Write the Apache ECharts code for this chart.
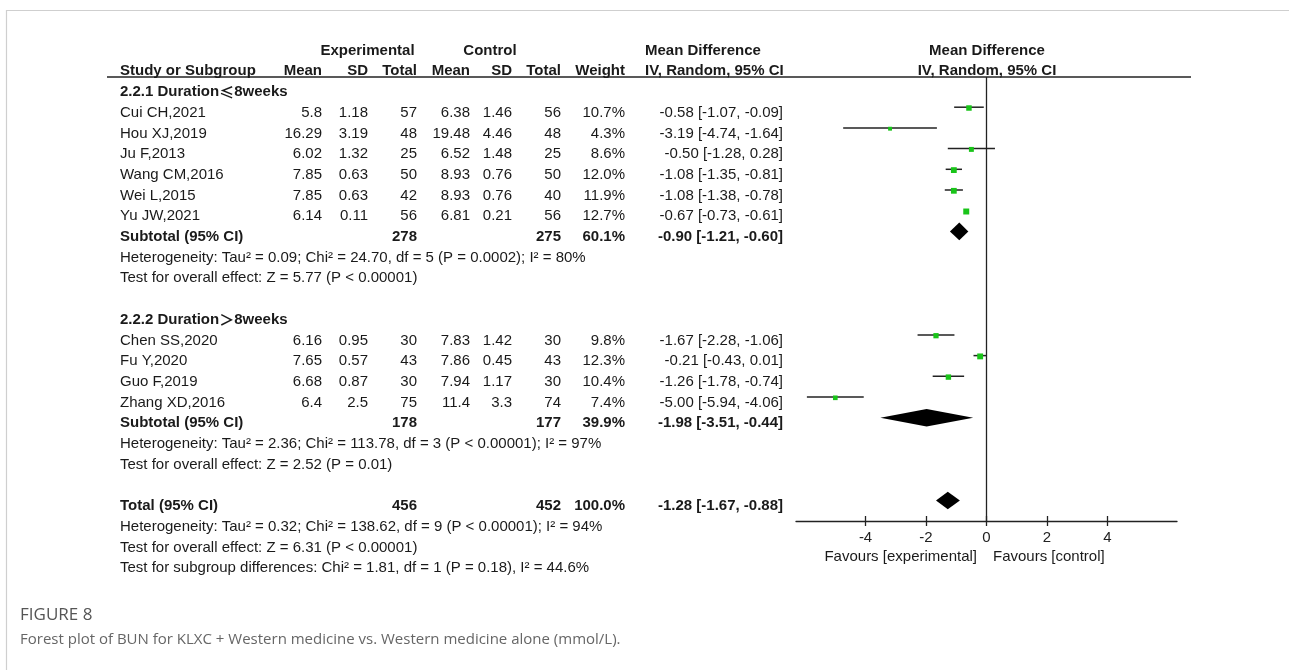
<!DOCTYPE html>
<html><head><meta charset="utf-8">
<script src="https://cdn.jsdelivr.net/npm/echarts@6/dist/echarts.min.js"></script>
<style>html,body{margin:0;padding:0;background:#fff}#c{width:1289px;height:670px}</style>
</head><body><div id="c"></div>
<script>
// ---------------- data ----------------
const studies  = ['Cui CH,2021','Hou XJ,2019','Ju F,2013','Wang CM,2016','Wei L,2015','Yu JW,2021','Chen SS,2020','Fu Y,2020','Guo F,2019','Zhang XD,2016'];
const studyRows = [1,2,3,4,5,6,12,13,14,15];
const expMean = ['5.8','16.29','6.02','7.85','7.85','6.14','6.16','7.65','6.68','6.4'];
const expSD   = ['1.18','3.19','1.32','0.63','0.63','0.11','0.95','0.57','0.87','2.5'];
const expN    = [57,48,25,50,42,56,30,43,30,75];
const ctlMean = ['6.38','19.48','6.52','8.93','8.93','6.81','7.83','7.86','7.94','11.4'];
const ctlSD   = ['1.46','4.46','1.48','0.76','0.76','0.21','1.42','0.45','1.17','3.3'];
const ctlN    = [56,48,25,50,40,56,30,43,30,74];
const weight  = [10.7,4.3,8.6,12.0,11.9,12.7,9.8,12.3,10.4,7.4];
const md      = [-0.58,-3.19,-0.50,-1.08,-1.08,-0.67,-1.67,-0.21,-1.26,-5.00];
const lo      = [-1.07,-4.74,-1.28,-1.35,-1.38,-0.73,-2.28,-0.43,-1.78,-5.94];
const hi      = [-0.09,-1.64,0.28,-0.81,-0.78,-0.61,-1.06,0.01,-0.74,-4.06];

const poolNames = ['Subtotal (95% CI)','Subtotal (95% CI)','Total (95% CI)'];
const poolRows  = [7,16,20];
const poolExpN  = [278,178,456];
const poolCtlN  = [275,177,452];
const poolW     = [60.1,39.9,100.0];
const poolMd    = [-0.90,-1.98,-1.28];
const poolLo    = [-1.21,-3.51,-1.67];
const poolHi    = [-0.60,-0.44,-0.88];

const groupLabels = ['2.2.1 Duration{c|≤}8weeks','2.2.2 Duration{c|＞}8weeks'];
const groupRows = [0,11];
const noteLines = [
  'Heterogeneity: Tau² = 0.09; Chi² = 24.70, df = 5 (P = 0.0002); I² = 80%',
  'Test for overall effect: Z = 5.77 (P < 0.00001)',
  'Heterogeneity: Tau² = 2.36; Chi² = 113.78, df = 3 (P < 0.00001); I² = 97%',
  'Test for overall effect: Z = 2.52 (P = 0.01)',
  'Heterogeneity: Tau² = 0.32; Chi² = 138.62, df = 9 (P < 0.00001); I² = 94%',
  'Test for overall effect: Z = 6.31 (P < 0.00001)',
  'Test for subgroup differences: Chi² = 1.81, df = 1 (P = 0.18), I² = 44.6%'
];
const noteRows = [8,9,17,18,21,22,23];
const tickValues = [-4,-2,0,2,4];
const xRange = [-6.3, 6.3];
const favours = ['Favours [experimental]','Favours [control]'];

// ---------------- layout ----------------
const W = 1289, H = 670;
const ROW_H = 20.7, TEXT_Y0 = 92, PLOT_Y0 = 86.5;
const PLOT_LEFT = 796, PLOT_RIGHT = 1177, PLOT_TOP = 77, PLOT_BOTTOM = 521;
const COL = {label:120, eMean:322, eSD:368, eN:417, cMean:470, cSD:512, cN:561, w:625, ci:783, mdHead:645, plotHead:987};
const FONT = '"Liberation Sans", Arial, sans-serif';
const TXT = '#1a1a1a';

const fmtCI = (m,l,h) => m.toFixed(2) + ' [' + l.toFixed(2) + ', ' + h.toFixed(2) + ']';

// text items: [x, row, text, align, bold]
const items = [];
items.push([ (COL.eMean+COL.eN)/2 - 2, -2, 'Experimental', 'center', true]);
items.push([ 490, -2, 'Control', 'center', true]);
items.push([ COL.mdHead, -2, 'Mean Difference', 'left', true]);
items.push([ COL.plotHead, -2, 'Mean Difference', 'center', true]);
[['Study or Subgroup',COL.label,'left'],['Mean',COL.eMean,'right'],['SD',COL.eSD,'right'],['Total',COL.eN,'right'],
 ['Mean',COL.cMean,'right'],['SD',COL.cSD,'right'],['Total',COL.cN,'right'],['Weight',COL.w,'right'],
 ['IV, Random, 95% CI',COL.mdHead,'left'],['IV, Random, 95% CI',COL.plotHead,'center']]
 .forEach(h => items.push([h[1], -1, h[0], h[2], true]));
groupLabels.forEach((g,i) => items.push([COL.label, groupRows[i], g, 'left', true]));
studies.forEach((s,i) => {
  const r = studyRows[i];
  items.push([COL.label, r, s, 'left', false]);
  items.push([COL.eMean, r, expMean[i], 'right', false]);
  items.push([COL.eSD, r, expSD[i], 'right', false]);
  items.push([COL.eN, r, String(expN[i]), 'right', false]);
  items.push([COL.cMean, r, ctlMean[i], 'right', false]);
  items.push([COL.cSD, r, ctlSD[i], 'right', false]);
  items.push([COL.cN, r, String(ctlN[i]), 'right', false]);
  items.push([COL.w, r, weight[i].toFixed(1) + '%', 'right', false]);
  items.push([COL.ci, r, fmtCI(md[i], lo[i], hi[i]), 'right', false]);
});
poolNames.forEach((p,i) => {
  const r = poolRows[i];
  items.push([COL.label, r, p, 'left', true]);
  items.push([COL.eN, r, String(poolExpN[i]), 'right', true]);
  items.push([COL.cN, r, String(poolCtlN[i]), 'right', true]);
  items.push([COL.w, r, poolW[i].toFixed(1) + '%', 'right', true]);
  items.push([COL.ci, r, fmtCI(poolMd[i], poolLo[i], poolHi[i]), 'right', true]);
});
noteLines.forEach((n,i) => items.push([COL.label, noteRows[i], n, 'left', false]));
items.push([977, 22.45, favours[0], 'right', false]);
items.push([993, 22.45, favours[1], 'left', false]);

const chart = echarts.init(document.getElementById('c'), null, {renderer:'canvas'});

const tableMin = -TEXT_Y0 / ROW_H, tableMax = (H - TEXT_Y0) / ROW_H;
const plotMin = (PLOT_TOP - PLOT_Y0) / ROW_H, plotMax = (PLOT_BOTTOM - PLOT_Y0) / ROW_H;
const plotGrid = {left:PLOT_LEFT, top:PLOT_TOP, width:PLOT_RIGHT-PLOT_LEFT, height:PLOT_BOTTOM-PLOT_TOP};

chart.setOption({
  animation:false,
  backgroundColor:'#fff',
  grid:[
    {left:0, top:0, width:W, height:H},
    plotGrid,
    Object.assign({}, plotGrid)
  ],
  xAxis:[
    {gridIndex:0, type:'value', min:0, max:W, show:false},
    {gridIndex:1, type:'value', min:xRange[0], max:xRange[1], position:'bottom',
     axisLine:{show:true, onZero:false, lineStyle:{color:'#222', width:1.3}},
     axisTick:{show:true, customValues:tickValues, length:5, lineStyle:{color:'#222', width:1.3}},
     axisLabel:{show:true, customValues:tickValues, color:'#222', fontSize:15, fontFamily:FONT, margin:9},
     splitLine:{show:false}},
    {gridIndex:2, type:'value', min:xRange[0], max:xRange[1], position:'bottom',
     axisLine:{show:false, onZero:false},
     axisTick:{show:true, inside:true, customValues:tickValues, length:5, lineStyle:{color:'#222', width:1.3}},
     axisLabel:{show:false}, splitLine:{show:false}}
  ],
  yAxis:[
    {gridIndex:0, type:'value', min:tableMin, max:tableMax, inverse:true, show:false},
    {gridIndex:1, type:'value', min:plotMin, max:plotMax, inverse:true, show:false},
    {gridIndex:2, type:'value', min:plotMin, max:plotMax, inverse:true, show:false}
  ],
  graphic:[
    {type:'line', shape:{x1:6, y1:10.5, x2:W, y2:10.5}, style:{stroke:'#cfcfcf', lineWidth:1.2}},
    {type:'line', shape:{x1:6.5, y1:10, x2:6.5, y2:H}, style:{stroke:'#cfcfcf', lineWidth:1.2}},
    {type:'line', shape:{x1:107, y1:77, x2:1191, y2:77}, style:{stroke:'#222', lineWidth:1.5}},
    {type:'text', x:20, y:615, style:{text:'FIGURE 8', font:'17px "Open Sans", sans-serif', fill:'#555', verticalAlign:'middle'}},
    {type:'text', x:20, y:640, style:{text:'Forest plot of BUN for KLXC + Western medicine vs. Western medicine alone (mmol/L).', font:'15px "Open Sans", sans-serif', fill:'#666', verticalAlign:'middle'}}
  ],
  series:[
    {
      type:'custom', xAxisIndex:0, yAxisIndex:0, silent:true,
      data: items.map(d => [d[0], d[1]]),
      renderItem(params, api){
        const d = items[params.dataIndex];
        const p = api.coord([d[0], d[1]]);
        return {type:'text', x:p[0], y:p[1], style:{
          text:d[2], align:d[3], verticalAlign:'middle', fill:TXT,
          font:(d[4]?'bold ':'') + '15px ' + FONT,
          rich:{c:{fontFamily:'"Noto Sans CJK SC"', fontWeight:'bold', fontSize:15, fill:TXT}}
        }};
      }
    },
    {
      type:'custom', xAxisIndex:1, yAxisIndex:1, silent:true, clip:false,
      data: md.map((m,i) => [m, lo[i], hi[i], studyRows[i], weight[i]]),
      encode:{x:[0,1,2], y:3},
      renderItem(params, api){
        const r = api.value(3);
        const a = api.coord([api.value(1), r]), b = api.coord([api.value(2), r]), c = api.coord([api.value(0), r]);
        const s = 2.8 + 0.25 * api.value(4);
        return {type:'group', children:[
          {type:'line', shape:{x1:a[0], y1:a[1], x2:b[0], y2:b[1]}, style:{stroke:'#222', lineWidth:1.5}},
          {type:'rect', shape:{x:c[0]-s/2, y:c[1]-s/2+0.8, width:s, height:s}, style:{fill:'#19c419'}}
        ]};
      },
      markLine:{silent:true, symbol:'none', label:{show:false},
        lineStyle:{color:'#222', width:1.3, type:'solid'}, data:[{xAxis:0}]}
    },
    {
      type:'custom', xAxisIndex:1, yAxisIndex:1, silent:true, clip:false,
      data: poolMd.map((m,i) => [m, poolLo[i], poolHi[i], poolRows[i]]),
      encode:{x:[0,1,2], y:3},
      renderItem(params, api){
        const r = api.value(3);
        const l = api.coord([api.value(1), r]), h = api.coord([api.value(2), r]), c = api.coord([api.value(0), r]);
        const half = 8.8;
        return {type:'polygon', shape:{points:[[l[0], l[1]], [c[0], c[1]-half], [h[0], h[1]], [c[0], c[1]+half]]},
          style:{fill:'#000'}};
      }
    }
  ]
});
</script>
</body></html>
